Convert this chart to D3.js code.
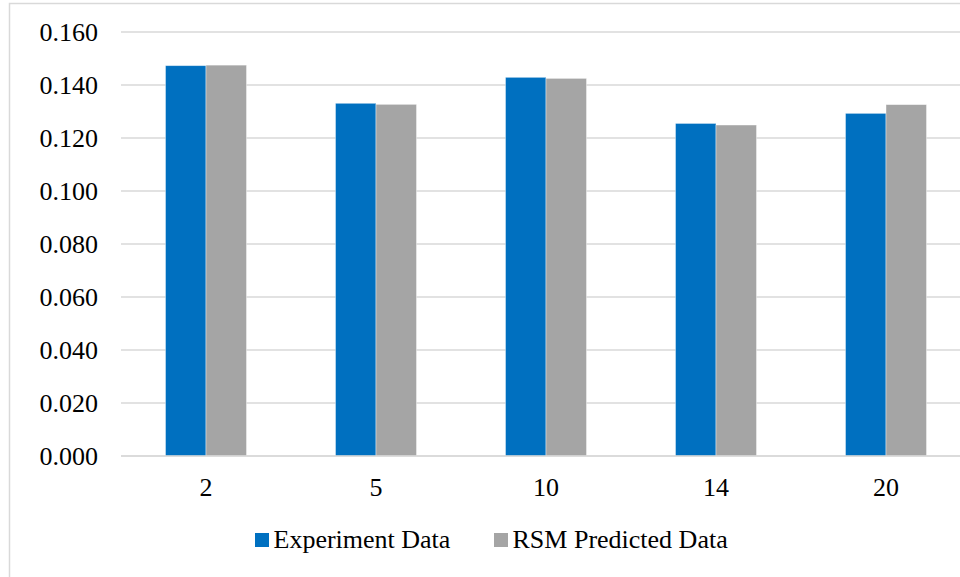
<!DOCTYPE html>
<html>
<head>
<meta charset="utf-8">
<script src="https://cdn.jsdelivr.net/npm/d3@7"></script>
<style>
  html, body { margin: 0; padding: 0; background: #fff; }
  svg { display: block; }
</style>
</head>
<body>
<svg id="chart" width="960" height="577"></svg>
<script>
const categories = ["2", "5", "10", "14", "20"];
const seriesNames = ["Experiment Data", "RSM Predicted Data"];
const experimentData = [0.1473, 0.1331, 0.1429, 0.1255, 0.1293];
const rsmPredictedData = [0.1475, 0.1327, 0.1425, 0.1249, 0.1326];
const yTicks = [0, 0.02, 0.04, 0.06, 0.08, 0.10, 0.12, 0.14, 0.16];
const colors = ["#0070C0", "#A5A5A5"];

const FONT = "'Liberation Serif'";
const seriesValues = [experimentData, rsmPredictedData];
const rows = categories.map((c, i) => ({ cat: c, vals: seriesValues.map(s => s[i]) }));

const svg = d3.select("#chart");

// outer chart border
svg.append("rect")
  .attr("x", 9.5).attr("y", 3.5)
  .attr("width", 1000).attr("height", 620)
  .attr("fill", "#fff")
  .attr("stroke", "#d9d9d9").attr("stroke-width", 1.5);

const plotLeft = 121, plotRight = 971, plotTop = 32, plotBottom = 456;

const y = d3.scaleLinear().domain([0, 0.16]).range([plotBottom, plotTop]);
const x = d3.scaleBand().domain(categories).range([plotLeft, plotRight])
  .paddingInner(0.5235).paddingOuter(0.5235 / 2);
const x1 = d3.scaleBand().domain(seriesNames).range([0, x.bandwidth()]);

// gridlines
svg.append("g").selectAll("line").data(yTicks).join("line")
  .attr("x1", plotLeft).attr("x2", plotRight)
  .attr("y1", d => y(d)).attr("y2", d => y(d))
  .attr("stroke", "#d9d9d9").attr("stroke-width", 1.5);

// y axis labels
const yAxis = d3.axisLeft(y).tickValues(yTicks).tickFormat(d3.format(".3f")).tickSize(0).tickPadding(0);
const gy = svg.append("g").attr("transform", `translate(98,0)`).call(yAxis);
gy.attr("font-family", null).attr("font-size", null);
gy.select(".domain").remove();
gy.selectAll("text")
  .style("font-family", FONT).style("font-size", "26px")
  .attr("fill", "#000").attr("dy", "0.33em");

// bars
const groups = svg.append("g").selectAll("g").data(rows).join("g")
  .attr("transform", d => `translate(${x(d.cat)},0)`);
groups.selectAll("rect")
  .data(d => d.vals.map((v, i) => ({ key: seriesNames[i], v, i })))
  .join("rect")
  .attr("x", d => x1(d.key))
  .attr("width", x1.bandwidth())
  .attr("y", d => y(d.v))
  .attr("height", d => y(0) - y(d.v))
  .attr("fill", d => colors[d.i])
  .attr("stroke", "#ffffff").attr("stroke-opacity", 0.5).attr("stroke-width", 0.8);

// baseline redraw
svg.append("line")
  .attr("x1", plotLeft).attr("x2", plotRight)
  .attr("y1", y(0)).attr("y2", y(0))
  .attr("stroke", "#d9d9d9").attr("stroke-width", 1.5);

// x axis labels
const xAxis = d3.axisBottom(x).tickSize(0).tickPadding(0);
const gx = svg.append("g").attr("transform", `translate(0,${plotBottom + 40})`).call(xAxis);
gx.attr("font-family", null).attr("font-size", null);
gx.select(".domain").remove();
gx.selectAll("text")
  .style("font-family", FONT).style("font-size", "26px")
  .attr("fill", "#000").attr("dy", "0");

// legend
const legendItems = [
  { name: seriesNames[0], color: colors[0], x: 255 },
  { name: seriesNames[1], color: colors[1], x: 494 }
];
const lg = svg.append("g").selectAll("g").data(legendItems).join("g")
  .attr("transform", d => `translate(${d.x},533)`);
lg.append("rect").attr("width", 14).attr("height", 14).attr("fill", d => d.color);
lg.append("text").attr("x", 18.5).attr("y", 15)
  .style("font-family", FONT).style("font-size", "26px")
  .attr("fill", "#000").text(d => d.name);
</script>
</body>
</html>
